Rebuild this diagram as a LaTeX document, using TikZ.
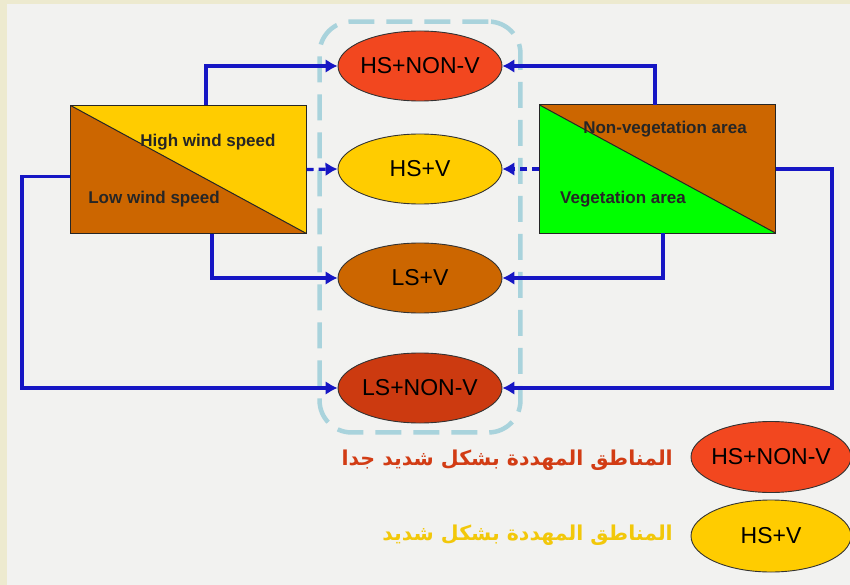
\documentclass[tikz,border=0pt]{standalone}
\usepackage{fontspec}
\setmainfont{Liberation Sans}
\newfontfamily\arabicfont[Script=Arabic]{DejaVu Sans}
\TeXXeTstate=1
\usetikzlibrary{arrows.meta,shapes.geometric,fit,backgrounds}
\definecolor{cbeige}{HTML}{EDEACF}
\definecolor{cpaper}{HTML}{F2F2F0}
\definecolor{cred}{HTML}{F2471F}
\definecolor{cyel}{HTML}{FFCC00}
\definecolor{cbrn}{HTML}{CC6600}
\definecolor{cdred}{HTML}{CC3A10}
\definecolor{cgrn}{HTML}{00FF00}
\definecolor{cline}{HTML}{1616C4}
\definecolor{czone}{HTML}{A9D3DC}
\definecolor{ckred}{HTML}{D23C14}
\definecolor{ckyel}{HTML}{F2C80A}

\begin{document}
\begin{tikzpicture}[
  x=1pt, y=-1pt,
  box/.style={draw=black!85, line width=1.2pt, minimum width=235pt,
              minimum height=127pt, inner sep=0pt},
  ell/.style={ellipse, draw=black!80, line width=0.9pt, minimum width=164pt,
              minimum height=70pt, inner xsep=-9pt, inner ysep=0pt,
              font=\fontsize{23}{25}\selectfont},
  ar/.style={-{Latex[length=12pt,width=14pt]}, draw=cline, line width=3.2pt},
  dsh/.style={dash pattern=on 7pt off 5pt},
  lbl/.style={font=\fontsize{17}{19}\selectfont\bfseries, text=black!85, inner sep=0pt},
  zone/.style={draw=czone, line width=4.5pt, dash pattern=on 26pt off 12pt,
               rounded corners=32pt},
  key/.style={font=\fontsize{20.5}{24}\selectfont\arabicfont\bfseries,
              inner sep=0pt, anchor=east},
]
\useasboundingbox (0,0) rectangle (850,585);

%% ---------- the two split boxes ----------
\node[box] (wind) at (188.5,169.5) {};
\fill[cyel] (wind.north west) -- (wind.north east) -- (wind.south east) -- cycle;
\fill[cbrn] (wind.north west) -- (wind.south west) -- (wind.south east) -- cycle;
\draw[black!85, line width=1pt] (wind.north west) -- (wind.south east);
\draw[black!85, line width=1.2pt] (wind.north west) rectangle (wind.south east);
\node[lbl] (hiw) at (208,142) {High wind speed};
\node[lbl] (low) at (154,199) {Low wind speed};

\node[box] (veg) at (657.5,169) {};
\fill[cbrn] (veg.north west) -- (veg.north east) -- (veg.south east) -- cycle;
\fill[cgrn] (veg.north west) -- (veg.south west) -- (veg.south east) -- cycle;
\draw[black!85, line width=1pt] (veg.north west) -- (veg.south east);
\draw[black!85, line width=1.2pt] (veg.north west) rectangle (veg.south east);
\node[lbl] (nonv) at (665,129) {Non-vegetation area};
\node[lbl] (vega) at (623,199) {Vegetation area};

%% ---------- classes ----------
\node[ell, fill=cred]  (hsn) at (420,66)  {HS+NON-V};
\node[ell, fill=cyel]  (hsv) at (420,169) {HS+V};
\node[ell, fill=cbrn]  (lsv) at (420,278) {LS+V};
\node[ell, fill=cdred] (lsn) at (420,388) {LS+NON-V};

\coordinate (lbend) at (22,300);
\coordinate (rbend) at (832,300);

\draw[ar] ([xshift=17.5pt]wind.north) |- (hsn.west);
\draw[ar, dsh] (wind.east) -- (hsv.west);
\draw[ar] ([xshift=23.5pt]wind.south) |- (lsv.west);
\draw[ar] ([yshift=-7pt]wind.west) -| (lbend) |- (lsn.west);

\draw[ar] ([xshift=-2.5pt]veg.north) |- (hsn.east);
\draw[ar, dsh] (veg.west) -- (hsv.east);
\draw[ar] ([xshift=5.5pt]veg.south) |- (lsv.east);
\draw[ar] (veg.east) -| (rbend) |- (lsn.east);

%% ---------- key ----------
\node[ell, fill=cred, minimum width=160pt, minimum height=71pt] (keyhsn) at (771,457) {HS+NON-V};
\node[ell, fill=cyel, minimum width=160pt, minimum height=72pt] (keyhsv) at (771,536) {HS+V};
\node[key, text=ckred] (keya) at (673,460) {\beginR المناطق المهددة بشكل شديد جدا\endR};
\node[key, text=ckyel] (keyb) at (673,535) {\beginR المناطق المهددة بشكل شديد\endR};

\begin{scope}[on background layer]
  \fill[cbeige] (0,0) rectangle (850,585);
  \fill[cpaper] (7,4) rectangle (850,585);
  \node[zone, fit=(hsn)(lsn), inner xsep=18pt, inner ysep=9pt] (area) {};
\end{scope}

\end{tikzpicture}
\end{document}
